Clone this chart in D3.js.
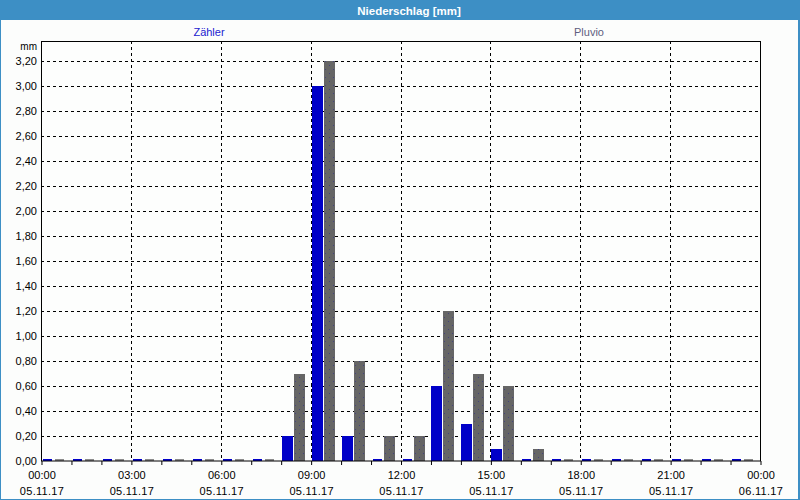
<!DOCTYPE html>
<html>
<head>
<meta charset="utf-8">
<script src="https://cdn.jsdelivr.net/npm/d3@7"></script>
<style>
  body { margin: 0; background: #fff; }
  svg text { font-family: "Liberation Sans", Arial, sans-serif; }
</style>
</head>
<body>
<svg id="chart" width="800" height="500"></svg>
<script>
// chart data
const title = "Niederschlag [mm]";
const unit = "mm";
const seriesNames = ["Zähler", "Pluvio"];
// hourly bins, 05.11.17 00:00 .. 23:00
const hourLabels = ["00", "01", "02", "03", "04", "05", "06", "07", "08", "09", "10", "11",
                    "12", "13", "14", "15", "16", "17", "18", "19", "20", "21", "22", "23"];
const zaehler = [0, 0, 0, 0, 0, 0, 0, 0, 0.2, 3.0, 0.2, 0, 0, 0.6, 0.3, 0.1, 0, 0, 0, 0, 0, 0, 0, 0];
const pluvio  = [0, 0, 0, 0, 0, 0, 0, 0, 0.7, 3.2, 0.8, 0.2, 0.2, 1.2, 0.7, 0.6, 0.1, 0, 0, 0, 0, 0, 0, 0];
const yTicks = [0, 0.2, 0.4, 0.6, 0.8, 1.0, 1.2, 1.4, 1.6, 1.8, 2.0, 2.2, 2.4, 2.6, 2.8, 3.0, 3.2];

const svg = d3.select("#chart");
const W = 800, H = 500;
const frameBlue = "#3d8fc5";
const colors = { "Zähler": "#0000c8", "Pluvio": "#666666" };

// frame + title bar
svg.append("rect").attr("x", 0.5).attr("y", 0.5).attr("width", W - 1.5).attr("height", H - 1)
  .attr("fill", "#fcfdfc").attr("stroke", frameBlue).attr("stroke-width", 1);
svg.append("rect").attr("x", 0).attr("y", 0).attr("width", W).attr("height", 20).attr("fill", frameBlue);
svg.append("rect").attr("x", W - 2).attr("y", 0).attr("width", 2).attr("height", H).attr("fill", frameBlue);
svg.append("text").attr("x", 409).attr("y", 15).attr("text-anchor", "middle")
  .attr("fill", "#fff").attr("font-weight", "bold").attr("font-size", 11.5).text(title);

// pattern for the Pluvio bars (grey with sparse blue dots)
const pat = svg.append("defs").append("pattern").attr("id", "dots")
  .attr("patternUnits", "userSpaceOnUse").attr("width", 8).attr("height", 8);
pat.append("rect").attr("width", 8).attr("height", 8).attr("fill", colors["Pluvio"]);
pat.append("rect").attr("x", 2).attr("y", 1).attr("width", 1).attr("height", 1).attr("fill", "#44447e");
pat.append("rect").attr("x", 6).attr("y", 5).attr("width", 1).attr("height", 1).attr("fill", "#44447e");

const plotL = 41, plotR = 760, plotT = 41, plotB = 461;
const start = new Date(2017, 10, 5, 0, 0);
const end = new Date(2017, 10, 6, 0, 0);

const x = d3.scaleTime().domain([start, end]).range([plotL, plotR]);
const y = d3.scaleLinear().domain([0, 3.36]).range([plotB, plotT]);
const sub = d3.scaleBand().domain(seriesNames).range([1, 25]);

const de = d3.formatLocale({ decimal: ",", thousands: ".", grouping: [3], currency: ["", "€"] });
const fmtY = de.format(".2f");

const plot = svg.append("g");
plot.append("rect").attr("x", plotL).attr("y", plotT).attr("width", plotR - plotL).attr("height", plotB - plotT)
  .attr("fill", "#fdfefd");

// horizontal grid
plot.append("g").selectAll("line").data(yTicks.filter((d) => d > 0)).join("line")
  .attr("x1", plotL).attr("x2", plotR)
  .attr("y1", (d) => Math.round(y(d)) + 0.5).attr("y2", (d) => Math.round(y(d)) + 0.5)
  .attr("stroke", "#000").attr("stroke-dasharray", "3,3");

// vertical grid every 3 hours
const gridTimes = d3.timeHour.every(3).range(start, end).slice(1);
plot.append("g").selectAll("line").data(gridTimes).join("line")
  .attr("x1", (d) => Math.round(x(d)) + 0.5).attr("x2", (d) => Math.round(x(d)) + 0.5)
  .attr("y1", plotT).attr("y2", plotB)
  .attr("stroke", "#000").attr("stroke-dasharray", "3,3");

// bars
const rows = hourLabels.map((h, i) => ({
  t: d3.timeHour.offset(start, i),
  values: [
    { key: "Zähler", v: zaehler[i] },
    { key: "Pluvio", v: pluvio[i] }
  ]
}));

const groups = plot.append("g").selectAll("g").data(rows).join("g")
  .attr("transform", (d) => `translate(${Math.round(x(d.t))},0)`);

groups.selectAll("rect").data((d) => d.values).join("rect")
  .attr("x", (d) => sub(d.key) + (d.v === 0 ? 1 : 0))
  .attr("width", (d) => sub.bandwidth() - (d.v === 0 ? 3 : 1))
  .attr("y", (d) => (d.v === 0 ? plotB - 2 : Math.round(y(d.v))))
  .attr("height", (d) => (d.v === 0 ? 2 : plotB - Math.round(y(d.v))))
  .attr("fill", (d) => (d.key === "Pluvio" ? (d.v === 0 ? "#8c8c8c" : "url(#dots)") : colors["Zähler"]));

// plot border
plot.append("rect").attr("x", plotL + 0.5).attr("y", plotT + 0.5)
  .attr("width", plotR - plotL).attr("height", plotB - plotT - 0.5)
  .attr("fill", "none").attr("stroke", "#000");

// y axis labels
svg.append("g").selectAll("text").data(yTicks).join("text")
  .attr("x", 37).attr("y", (d) => y(d) + 4)
  .attr("text-anchor", "end").attr("font-size", 11).attr("fill", "#000")
  .text((d) => fmtY(d));
svg.append("text").attr("x", 37).attr("y", 50).attr("text-anchor", "end")
  .attr("font-size", 10).attr("fill", "#000").text(unit);

// x axis
const xAxis = d3.axisBottom(x)
  .ticks(d3.timeHour.every(1))
  .tickSize(4)
  .tickFormat((d) => (d.getHours() % 3 === 0 ? d3.timeFormat("%H:%M")(d) : ""));

const gx = svg.append("g").attr("transform", `translate(0.5,${plotB})`).call(xAxis);
gx.select(".domain").remove();
gx.selectAll(".tick line").attr("stroke", "#000");
gx.selectAll(".tick text").each(function (d) {
  const t = d3.select(this);
  const label = t.text();
  t.text(null).attr("font-size", 11).attr("fill", "#000").attr("dy", null).attr("y", 0);
  if (!label) return;
  t.append("tspan").attr("x", 0).attr("y", 18).text(label);
  t.append("tspan").attr("x", 0).attr("y", 34).attr("letter-spacing", 0.3)
    .text(d3.timeFormat("%d.%m.%y")(d));
});

// legend titles
svg.append("text").attr("x", 209).attr("y", 36).attr("text-anchor", "middle")
  .attr("font-size", 11).attr("fill", "#2323d0").text(seriesNames[0]);
svg.append("text").attr("x", 589).attr("y", 36).attr("text-anchor", "middle")
  .attr("font-size", 11).attr("fill", "#5e5e80").text(seriesNames[1]);
</script>
</body>
</html>
